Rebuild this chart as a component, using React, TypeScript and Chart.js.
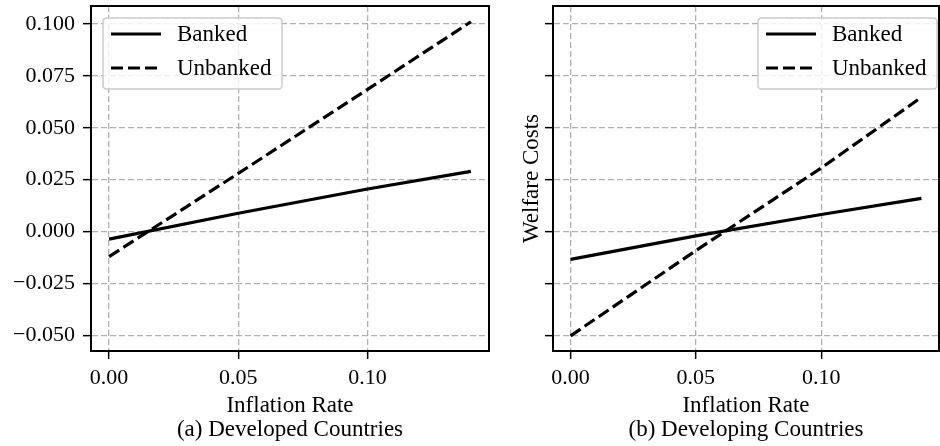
import React, { useEffect, useRef } from "react";
import { Chart, registerables } from "chart.js";

Chart.register(...registerables);

const X_VALUES = [0, 0.05, 0.1, 0.14];
const DEV_BANKED = [-0.0037, 0.0088, 0.0205, 0.029];
const DEV_UNBANKED = [-0.0121, 0.028, 0.0685, 0.1011];
const DVG_BANKED = [-0.0134, -0.0021, 0.0082, 0.016];
const DVG_UNBANKED = [-0.0503, -0.0092, 0.0306, 0.0647];

const X_TICKS = [0, 0.05, 0.1];
const Y_TICKS = [-0.05, -0.025, 0, 0.025, 0.05, 0.075, 0.1];
const X_MIN = -0.007;
const X_MAX = 0.147;
const Y_MIN = -0.0576;
const Y_MAX = 0.1087;

const SERIES_NAMES = ["Banked", "Unbanked"];
const FONT = "'Liberation Serif', 'Times New Roman', serif";
const GRID_COLOR = "#b0b0b0";

const spinePlugin = {
  id: "spines",
  afterDraw(chart: any) {
    const { ctx, chartArea } = chart;
    ctx.save();
    ctx.strokeStyle = "#000";
    ctx.lineWidth = 2;
    ctx.strokeRect(chartArea.left, chartArea.top, chartArea.right - chartArea.left, chartArea.bottom - chartArea.top);
    ctx.restore();
  },
};

const boxLegendPlugin = {
  id: "boxLegend",
  afterDraw(chart: any) {
    const opts = chart.options.plugins.boxLegend;
    if (!opts) return;
    const { ctx, chartArea } = chart;
    const w = 179;
    const h = 71;
    const left = opts.side === "left" ? chartArea.left + 12 : chartArea.right - 2 - w;
    const top = chartArea.top + 12;
    ctx.save();
    ctx.beginPath();
    const r = 4;
    ctx.moveTo(left + r, top);
    ctx.lineTo(left + w - r, top);
    ctx.quadraticCurveTo(left + w, top, left + w, top + r);
    ctx.lineTo(left + w, top + h - r);
    ctx.quadraticCurveTo(left + w, top + h, left + w - r, top + h);
    ctx.lineTo(left + r, top + h);
    ctx.quadraticCurveTo(left, top + h, left, top + h - r);
    ctx.lineTo(left, top + r);
    ctx.quadraticCurveTo(left, top, left + r, top);
    ctx.closePath();
    ctx.fillStyle = "rgba(255,255,255,0.8)";
    ctx.fill();
    ctx.strokeStyle = "#cccccc";
    ctx.lineWidth = 1.5;
    ctx.stroke();
    chart.data.datasets.forEach((ds: any, i: number) => {
      const y = top + 16 + i * 34;
      ctx.beginPath();
      ctx.setLineDash(ds.borderDash || []);
      ctx.strokeStyle = "#000";
      ctx.lineWidth = 3.2;
      ctx.moveTo(left + 8, y);
      ctx.lineTo(left + 58, y);
      ctx.stroke();
      ctx.setLineDash([]);
      ctx.fillStyle = "#000";
      ctx.font = `23px ${FONT}`;
      ctx.textBaseline = "middle";
      ctx.textAlign = "left";
      ctx.fillText(ds.label, left + 74, y + 1);
    });
    ctx.restore();
  },
};

function makeConfig(banked: number[], unbanked: number[], caption: string, isLeft: boolean): any {
  const toPts = (arr: number[]) => X_VALUES.map((x, i) => ({ x, y: arr[i] }));
  return {
    type: "line",
    data: {
      datasets: [
        {
          label: SERIES_NAMES[0],
          data: toPts(banked),
          borderColor: "#000",
          borderWidth: 3.2,
          pointRadius: 0,
          tension: 0,
          fill: false,
          borderCapStyle: "butt",
        },
        {
          label: SERIES_NAMES[1],
          data: toPts(unbanked),
          borderColor: "#000",
          borderWidth: 3.2,
          borderDash: [12, 5],
          pointRadius: 0,
          tension: 0,
          fill: false,
          borderCapStyle: "butt",
        },
      ],
    },
    options: {
      animation: false,
      responsive: false,
      maintainAspectRatio: false,
      layout: { padding: { left: 0, right: 1, top: 6, bottom: 0 } },
      plugins: {
        legend: { display: false },
        tooltip: { enabled: false },
        boxLegend: { side: isLeft ? "left" : "right" },
      },
      scales: {
        x: {
          type: "linear",
          min: X_MIN,
          max: X_MAX,
          afterBuildTicks: (scale: any) => {
            scale.ticks = X_TICKS.map((v) => ({ value: v }));
          },
          afterFit: (scale: any) => {
            scale.height = 95;
            scale.paddingLeft = 0;
            scale.paddingRight = 0;
          },
          ticks: {
            color: "#000",
            font: { family: FONT, size: 22 },
            padding: 6,
            maxRotation: 0,
            autoSkip: false,
            callback: (v: any) => Number(v).toFixed(2),
          },
          grid: {
            color: GRID_COLOR,
            lineWidth: 1.3,
            tickColor: "#000",
            tickLength: 8,
            tickWidth: 1.5,
            tickBorderDash: [],
          },
          border: { display: true, color: "#000", width: 2, dash: [6, 3] },
          title: {
            display: true,
            text: ["Inflation Rate", caption],
            color: "#000",
            font: { family: FONT, size: 23, lineHeight: 1.05 },
            padding: { top: 0, bottom: 4 },
          },
        },
        y: {
          type: "linear",
          min: Y_MIN,
          max: Y_MAX,
          afterBuildTicks: (scale: any) => {
            scale.ticks = Y_TICKS.map((v) => ({ value: v }));
          },
          afterFit: (scale: any) => {
            scale.width = isLeft ? 91 : 63;
            scale.paddingTop = 0;
            scale.paddingBottom = 0;
          },
          ticks: {
            display: isLeft,
            color: "#000",
            font: { family: FONT, size: 22 },
            padding: 8,
            callback: (v: any) => {
              const s = Math.abs(Number(v)).toFixed(3);
              return Number(v) < -1e-9 ? "\u2212" + s : s;
            },
          },
          grid: {
            color: GRID_COLOR,
            lineWidth: 1.3,
            tickColor: "#000",
            tickLength: 8,
            tickWidth: 1.5,
            tickBorderDash: [],
          },
          border: { display: true, color: "#000", width: 2, dash: [6, 3] },
          title: {
            display: !isLeft,
            text: "Welfare Costs",
            color: "#000",
            font: { family: FONT, size: 23 },
            padding: { top: 28, bottom: 0 },
          },
        },
      },
    },
    plugins: [spinePlugin, boxLegendPlugin],
  };
}

export default function App() {
  const leftRef = useRef<HTMLCanvasElement>(null);
  const rightRef = useRef<HTMLCanvasElement>(null);

  useEffect(() => {
    const c1 = new Chart(leftRef.current!, makeConfig(DEV_BANKED, DEV_UNBANKED, "(a) Developed Countries", true));
    const c2 = new Chart(rightRef.current!, makeConfig(DVG_BANKED, DVG_UNBANKED, "(b) Developing Countries", false));
    return () => {
      c1.destroy();
      c2.destroy();
    };
  }, []);

  return (
    <div style={{ position: "absolute", left: 0, top: 0, width: 940, height: 446, background: "#fff" }}>
      <canvas ref={leftRef} width={490} height={446} style={{ position: "absolute", left: 0, top: 0, width: 490, height: 446 }} />
      <canvas ref={rightRef} width={450} height={446} style={{ position: "absolute", left: 490, top: 0, width: 450, height: 446 }} />
    </div>
  );
}
